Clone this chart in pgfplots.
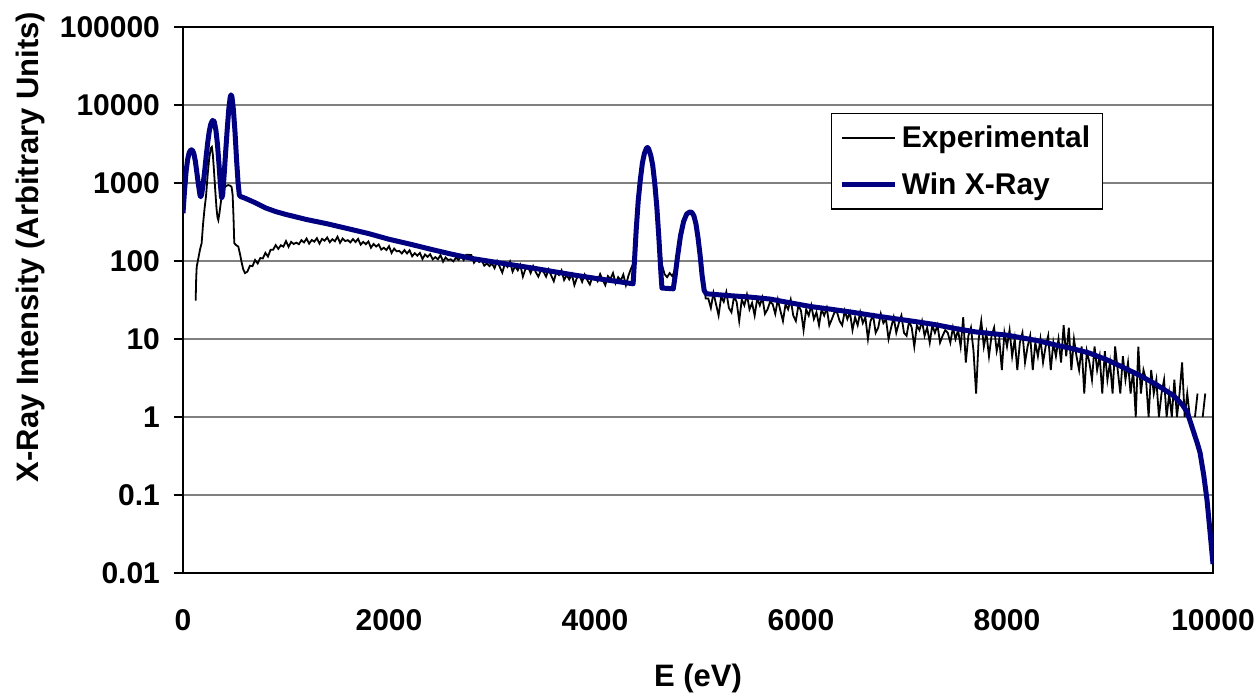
\documentclass[border=0pt]{standalone}
\usepackage{fontspec}
\setmainfont{Liberation Sans}
\usepackage{pgfplots}
\pgfplotsset{compat=1.18}
\definecolor{winblue}{RGB}{0,0,128}
\definecolor{gridgray}{RGB}{128,128,128}
\newcommand{\lab}{\fontsize{15}{18}\selectfont\bfseries}
\newcommand{\alab}{\fontsize{15.5}{18}\selectfont\bfseries}

\begin{document}
\begin{tikzpicture}
\path[use as bounding box] (-91.5pt,-63.5pt) rectangle (538.5pt,286.5pt);
\begin{axis}[
  scale only axis, width=515pt, height=273pt,
  ymode=log,
  xmin=0, xmax=10000, ymin=0.01, ymax=100000,
  scaled x ticks=false,
  xtick={0,2000,4000,6000,8000,10000},
  xticklabels={0,2000,4000,6000,8000,10000},
  ytick={0.01,0.1,1,10,100,1000,10000,100000},
  yticklabels={0.01,0.1,1,10,100,1000,10000,100000},
  yminorticks=false,
  ymajorgrids,
  major grid style={gridgray, line width=0.6pt},
  axis line style={black, line width=0.8pt},
  tick style={black, line width=0.8pt},
  xtick style={draw=none},
  ytick pos=left, xtick pos=bottom,
  tick align=outside,
  major tick length=4.5pt,
  tick label style={font=\lab},
  yticklabel style={anchor=east, xshift=-3.5pt},
  xticklabel style={anchor=center, yshift=-19pt},
  xlabel={E (eV)},
  ylabel={X-Ray Intensity (Arbitrary Units)},
  every axis x label/.style={at={(axis description cs:0.5,-0.194)}, anchor=center, font=\alab},
  every axis y label/.style={at={(axis description cs:-0.1485,0.597)}, anchor=center, rotate=90, font=\alab},
  legend style={at={(rel axis cs:0.893,0.8425)}, anchor=north east, draw=black,
    line width=0.6pt, font=\lab, inner xsep=4pt, inner ysep=4pt, row sep=7pt},
  legend cell align=left,
  legend image code/.code={\draw[#1] (0pt,0pt) -- (26.5pt,0pt);},
  unbounded coords=jump,
]
% measured spectrum
\addplot[black, line width=0.9pt] coordinates {
(123,31)(128,60)(133,84)(150,110)(165,140)(181,169)(195,300)(210,480)(223,667)(240,1300)
(255,2100)(270,2800)(280,2900)(290,2300)(300,1500)(312,850)(325,480)(335,360)(343,334)(355,420)
(370,600)(385,760)(400,860)(420,920)(440,940)(460,920)(472,890)(482,700)(490,380)(498,169)
(515,160)(537,153)(555,120)(570,95)(585,78)(602,70)
(625,73)(650,87)(675,86)(700,103)(725,93)(750,109)(775,108)(800,127)(825,114)(850,139)
(875,139)(900,160)(925,143)(950,159)(975,153)(1000,180)(1025,152)(1050,176)(1075,165)(1100,172)
(1125,164)(1150,185)(1175,173)(1200,194)(1225,167)(1250,186)(1275,177)(1300,196)(1325,167)(1350,192)
(1375,182)(1400,200)(1425,174)(1450,190)(1475,179)(1500,205)(1525,171)(1550,194)(1575,180)(1600,185)
(1625,173)(1650,191)(1675,175)(1700,192)(1725,162)(1750,176)(1775,164)(1800,178)(1825,148)(1850,165)
(1875,153)(1900,163)(1925,140)(1950,148)(1975,138)(2000,155)(2025,127)(2050,144)(2075,133)(2100,135)
(2125,125)(2150,138)(2175,125)(2200,137)(2225,115)(2250,126)(2275,117)(2300,127)(2325,106)(2350,121)
(2375,113)(2400,122)(2425,105)(2450,112)(2475,105)(2500,119)(2525,98)(2550,111)(2575,103)(2600,105)
(2625,99)(2650,110)(2675,103)(2700,117)(2725,103)(2750,120)(2775,120)(2800,119)(2825,95)(2850,105)
(2875,97)(2900,103)(2925,87)(2950,93)(2975,86)
(3000,93)(3025,81)(3050,100)(3075,84)(3100,71)(3125,92)(3150,84)(3175,98)(3200,73)(3225,86)
(3250,76)(3275,89)(3300,63)(3325,79)(3350,84)(3375,70)(3400,86)(3425,72)(3450,63)(3475,76)
(3500,73)(3525,63)(3550,78)(3575,65)(3600,55)(3625,72)(3650,66)(3675,76)(3700,57)(3725,66)
(3750,58)(3775,68)(3800,49)(3825,61)(3850,65)(3875,54)(3900,67)(3925,57)(3950,50)(3975,63)
(4000,62)(4025,55)(4050,68)(4075,57)(4100,49)(4125,64)(4150,59)(4175,70)(4200,52)(4225,62)
(4250,56)(4275,67)(4300,49)(4325,65)(4350,80)(4375,95)
(4400,200)(4425,600)(4450,1300)(4475,2100)(4500,2700)(4525,2600)(4550,2000)(4575,1300)(4600,600)(4625,200)
(4650,90)(4675,68)(4700,62)(4725,70)(4750,64)(4775,75)(4800,120)(4825,200)(4850,280)(4875,350)
(4900,390)(4925,410)(4950,400)(4975,320)(5000,220)(5025,130)(5050,60)(5075,33)
(5100,33)(5125,25)(5150,39)(5175,28)(5200,20)(5225,35)(5250,30)(5275,40)(5300,25)(5325,22)
(5350,35)(5375,30)(5400,17)(5425,32)(5450,27)(5475,37)(5500,24)(5525,29)(5550,20)(5575,33)
(5600,27)(5625,34)(5650,21)(5675,24)(5700,30)(5725,28)(5750,21)(5775,32)(5800,23)(5825,17)
(5850,28)(5875,24)(5900,32)(5925,20)(5950,17)(5975,27)(6000,23)(6025,13)(6050,24)(6075,20)
(6100,27)(6125,18)(6150,22)(6175,15)(6200,24)(6225,20)(6250,25)(6275,15)(6300,18)(6325,22)
(6350,22)(6375,17)(6400,15)(6425,23)(6450,18)(6475,22)(6500,13)(6525,19)(6550,15)(6575,22)
(6600,16)(6625,19)(6650,10)(6675,17)(6700,20)(6725,12)(6750,14)(6775,21)(6800,16)(6825,18)
(6850,10)(6875,14)(6900,19)(6925,12)(6950,16)(6975,20)(7000,12)(7025,11)(7050,17)(7075,14)
(7100,8)(7125,15)(7150,13)(7175,17)(7200,11)(7225,14)(7250,9)(7275,15)(7300,12)(7325,15)
(7350,9)(7375,11)(7400,13)(7425,12)(7450,9)(7475,14)(7500,10)
(7525,13)(7550,8)(7575,19)(7600,5)(7625,11)(7650,14)(7675,7)(7700,2)(7725,10)(7750,17)
(7775,8)(7800,12)(7825,6)(7850,11)(7875,14)(7900,7)(7925,10)(7950,4)(7975,12)(8000,8)
(8025,13)(8050,6)(8075,10)(8100,4)(8125,9)(8150,12)(8175,5)(8200,8)(8225,11)(8250,4)
(8275,9)(8300,6)(8325,10)(8350,5)(8375,8)(8400,11)(8425,4)(8450,9)(8475,6)(8500,10)
(8525,5)(8550,15)(8575,6)(8600,14)(8625,4)(8650,10)(8675,6)(8700,4)(8725,8)(8750,2)
(8775,7)(8800,5)(8825,3)(8850,8)(8875,4)(8900,6)(8925,2)(8950,7)(8975,3)(9000,5)
(9025,2)(9050,8)(9075,4)(9100,2)(9125,6)(9150,3)(9175,5)(9200,2)(9225,4)(9250,1)
(9275,8)(9300,2)(9325,4)(9350,3)(9375,1)(9400,4)(9425,2)(9450,3)(9475,1)(9500,2)
(9525,3)(9550,1)(9575,2)(9600,1)(9625,3)(9650,1)(9675,2)(9700,5)(9725,1)(9750,2)
(9775,1)(9800,nan)(9825,1)(9850,2)(9875,nan)(9900,1)(9925,2)
};
% simulated spectrum
\addplot[winblue, line width=2.5pt, line join=round] coordinates {
(0,410)(15,800)(30,1400)(45,2000)(60,2450)(75,2650)(90,2650)(105,2400)(120,1900)(135,1350)
(150,950)(165,700)(172,667)(180,700)(195,950)(210,1400)(225,2200)(240,3300)(255,4600)(270,5700)
(285,6300)(295,6350)(305,6000)(320,4700)(335,3100)(350,1700)(362,1000)(375,640)(385,700)(400,1300)
(415,2600)(430,5000)(445,9000)(458,12500)(466,13500)(475,12800)(490,8500)(505,4500)(520,2000)(535,1000)
(547,700)(560,670)(600,640)(700,560)(800,480)(900,430)(1000,395)(1200,340)(1400,300)(1600,260)
(1800,225)(2000,190)(2200,165)(2400,142)(2600,123)(2800,108)(3000,98)(3200,89)(3400,81)(3600,73)
(3800,66)(4000,60)(4200,55)(4370,51)(4385,110)(4400,250)(4420,600)(4440,1100)(4460,1800)(4480,2400)
(4500,2800)(4510,2850)(4520,2750)(4540,2300)(4560,1700)(4580,1000)(4600,500)(4620,200)(4640,70)(4650,45)
(4760,44)(4775,60)(4800,110)(4830,210)(4860,320)(4890,400)(4920,425)(4940,420)(4960,380)(4980,300)
(5000,200)(5020,120)(5040,65)(5060,42)(5080,38)(5300,36)(5500,34.5)(5700,32.5)(5900,29)(6100,26)
(6300,24)(6500,22)(6700,20)(6900,18.3)(7100,16.8)(7300,15.3)(7500,13.6)(7700,12.3)(8000,11.2)(8300,9.5)
(8500,8.2)(8641,7.5)(8800,6.6)(8971,5.4)(9100,4.5)(9291,3.4)(9450,2.6)(9612,1.9)(9700,1.45)(9750,1.15)
(9806,0.68)(9850,0.45)(9874,0.35)(9910,0.18)(9942,0.086)(9970,0.035)(10000,0.013)
};
\legend{Experimental, Win X-Ray}
\end{axis}
\end{tikzpicture}
\end{document}
